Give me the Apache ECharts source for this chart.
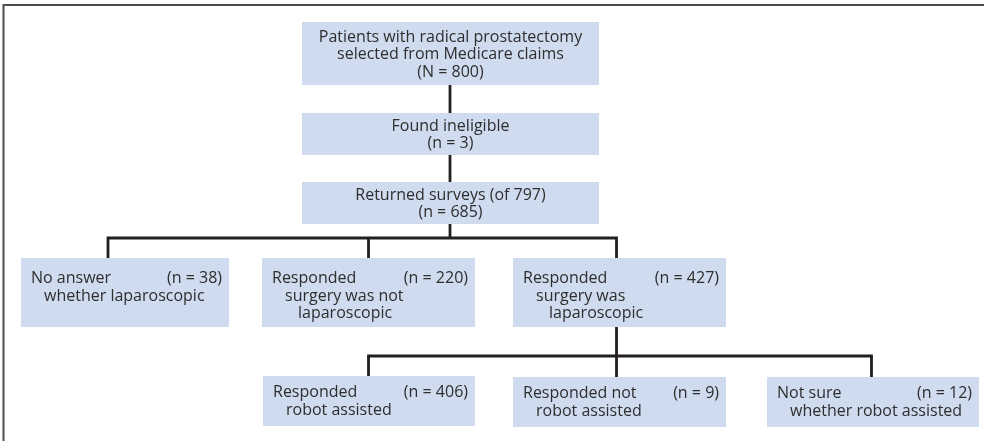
<!DOCTYPE html>
<html><head><meta charset="utf-8">
<script src="https://cdn.jsdelivr.net/npm/echarts@6/dist/echarts.min.js"></script>
<style>html,body{margin:0;padding:0;background:#fff}#c{width:984px;height:441px}</style>
</head><body><div id="c"></div>
<script>
// ---- data ----
const boxLabels = [
  ['Patients with radical prostatectomy', 'selected from Medicare claims'],
  ['Found ineligible'],
  ['Returned surveys (of 797)'],
  ['No answer', 'whether laparoscopic'],
  ['Responded', 'surgery was not', 'laparoscopic'],
  ['Responded', 'surgery was', 'laparoscopic'],
  ['Responded', 'robot assisted'],
  ['Responded not', 'robot assisted'],
  ['Not sure', 'whether robot assisted']
];
const countNames = ['N', 'n', 'n', 'n', 'n', 'n', 'n', 'n', 'n'];
const counts = [800, 3, 685, 38, 220, 427, 406, 9, 12];
const tree = [[0, [1]], [1, [2]], [2, [3, 4, 5]], [5, [6, 7, 8]]];

// ---- layout (canvas units, mapped through hidden axes) ----
const boxRect = [
  [302, 22, 599, 85], [302, 113, 599, 155], [302, 182, 599, 224],
  [21, 258, 229, 327], [262, 258, 475, 327], [513, 258, 726, 327],
  [263, 376, 475, 426], [513, 377, 726, 427], [767, 377, 979, 427]
];
const portX = [450, 450, 450, 108, 368.5, 616.5, 368.5, 616.5, 871.5];
const busY = { 2: 238, 5: 356 };
const firstLine = [0, 0, 0, 19.5, 19.5, 19.5, 15.7, 15.7, 15.7];
const LINE_H = 17.4, PAD_L = 10, PAD_R = 7, INDENT = 13, TEXT_DY = 1.2;
const BOX_FILL = '#cfdbee', TEXT_COL = '#2e2e2e', LINE_COL = '#231f20';
const FONT_FAMILY = '"Open Sans", "Liberation Sans", sans-serif', FONT_SIZE = 16;

function txt(x, y, s, align) {
  return { type: 'text', x: x, y: y + TEXT_DY, silent: true,
    style: { text: s, fill: TEXT_COL, fontFamily: FONT_FAMILY, fontSize: FONT_SIZE,
      align: align, verticalAlign: 'middle' } };
}

function renderBox(params, api) {
  const i = api.value(0);
  const r = boxRect[i];
  const a = api.coord([r[0], r[1]]), b = api.coord([r[2], r[3]]);
  const kids = [{ type: 'rect', shape: { x: a[0], y: a[1], width: b[0] - a[0], height: b[1] - a[1] },
    style: { fill: BOX_FILL } }];
  const countText = '(' + countNames[i] + ' = ' + counts[i] + ')';
  if (i < 3) {
    const lines = boxLabels[i].concat([countText]);
    const cx = (a[0] + b[0]) / 2, cy = (a[1] + b[1]) / 2;
    const y0 = cy - (lines.length - 1) * LINE_H / 2;
    lines.forEach((s, k) => kids.push(txt(cx, y0 + k * LINE_H, s, 'center')));
  } else {
    const y0 = a[1] + firstLine[i];
    boxLabels[i].forEach((s, k) => kids.push(txt(a[0] + PAD_L + k * INDENT, y0 + k * LINE_H, s, 'left')));
    kids.push(txt(b[0] - PAD_R, y0, countText, 'right'));
  }
  return { type: 'group', children: kids };
}

function renderLinks(params, api) {
  const t = tree[api.value(0)];
  const p = t[0], ch = t[1];
  const style = { stroke: LINE_COL, lineWidth: 2.8, fill: null, lineJoin: 'miter' };
  const out = [];
  if (ch.length === 1) {
    const c = ch[0];
    out.push({ type: 'polyline', shape: { points: [api.coord([portX[p], boxRect[p][3]]), api.coord([portX[c], boxRect[c][1]])] }, style: style });
  } else {
    const by = busY[p];
    out.push({ type: 'polyline', shape: { points: [api.coord([portX[p], boxRect[p][3]]), api.coord([portX[p], by])] }, style: style });
    const xs = ch.map(c => portX[c]);
    const lo = ch[xs.indexOf(Math.min(...xs))], hi = ch[xs.indexOf(Math.max(...xs))];
    out.push({ type: 'polyline', shape: { points: [
      api.coord([portX[lo], boxRect[lo][1]]), api.coord([portX[lo], by]),
      api.coord([portX[hi], by]), api.coord([portX[hi], boxRect[hi][1]])] }, style: style });
    ch.forEach(c => {
      if (c !== lo && c !== hi) out.push({ type: 'polyline', shape: { points: [api.coord([portX[c], by]), api.coord([portX[c], boxRect[c][1]])] }, style: style });
    });
  }
  return { type: 'group', children: out };
}

const chart = echarts.init(document.getElementById('c'), null, { renderer: 'canvas' });
chart.setOption({
  animation: false,
  backgroundColor: '#ffffff',
  grid: { left: 0, right: 0, top: 0, bottom: 0 },
  xAxis: { type: 'value', min: 0, max: 984, show: false },
  yAxis: { type: 'value', min: 0, max: 441, inverse: true, show: false },
  graphic: [{ type: 'polyline', silent: true, shape: { points: [[3.5, 445], [3.5, 5], [990, 5]] },
    style: { stroke: '#4d4d4d', lineWidth: 2, fill: null } }],
  series: [
    { type: 'custom', coordinateSystem: 'cartesian2d', renderItem: renderLinks,
      data: tree.map((t, k) => [k]), silent: true, clip: false },
    { type: 'custom', coordinateSystem: 'cartesian2d', renderItem: renderBox,
      data: boxLabels.map((l, k) => [k]), silent: true, clip: false }
  ]
});
</script></body></html>
